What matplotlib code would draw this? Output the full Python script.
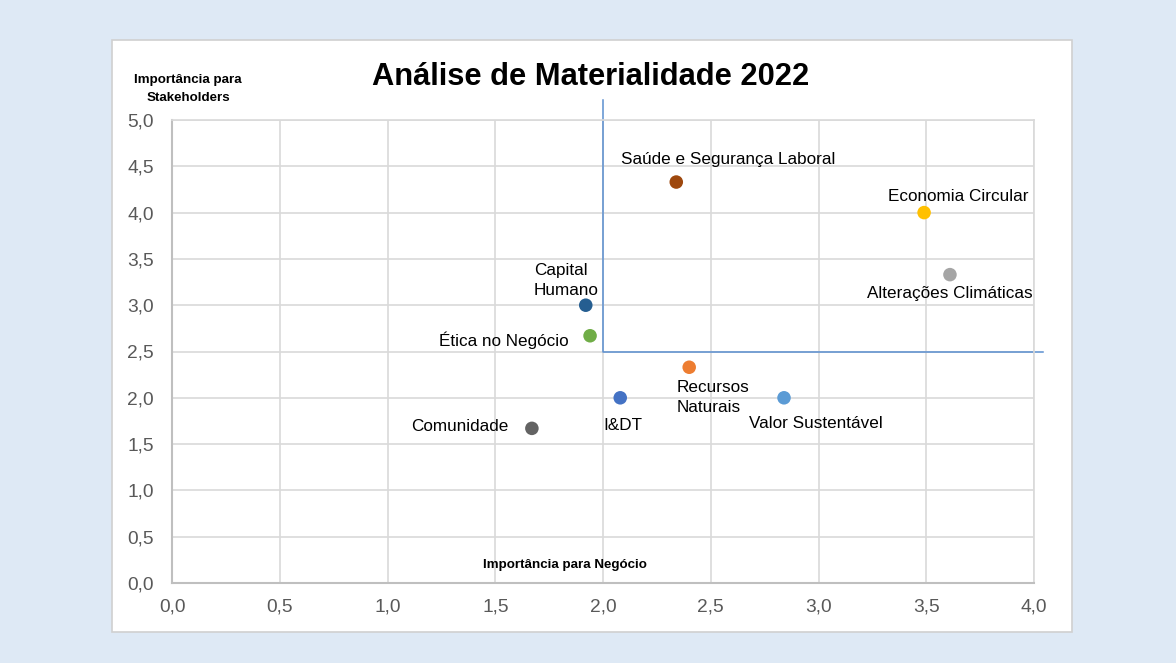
import matplotlib
matplotlib.use('Agg')
import matplotlib.pyplot as plt
from matplotlib.patches import Rectangle
from matplotlib.ticker import FuncFormatter, MultipleLocator

plt.rcParams['font.family'] = ['Liberation Sans', 'DejaVu Sans']

# dados
temas = ["Saúde e Segurança Laboral", "Economia Circular", "Alterações Climáticas",
         "Capital\nHumano", "Ética no Negócio", "Recursos\nNaturais",
         "I&DT", "Valor Sustentável", "Comunidade"]
negocio = [2.34, 3.49, 3.61, 1.92, 1.94, 2.40, 2.08, 2.84, 1.67]
stakeholders = [4.33, 4.00, 3.33, 3.00, 2.67, 2.33, 2.00, 2.00, 1.67]
cores = ["#9e480e", "#ffc000", "#a5a5a5", "#255e91", "#70ad47", "#ed7d31",
         "#4472c4", "#5b9bd5", "#636363"]
quadrante_x = [2.0, 2.0, 4.04]
quadrante_y = [5.22, 2.5, 2.5]

# deslocamento dos rótulos (pixels) e alinhamento
rotulos = [
    (52, 23, 'center'), (34, 16, 'center'), (0, -19, 'center'),
    (-52, 25, 'left'), (-21, -4, 'right'), (-13, -30, 'left'),
    (3, -28, 'center'), (32, -26, 'center'), (-23, 2, 'right'),
]

fig = plt.figure(figsize=(11.76, 6.63), dpi=100)
fig.patch.set_facecolor('#dee9f5')
fig.patches.append(Rectangle((112 / 1176, 1 - 632 / 663), 960 / 1176, 592 / 663,
                             transform=fig.transFigure, facecolor='white',
                             edgecolor='#d0d0d0', linewidth=1.2, zorder=-10))

ax = fig.add_axes([172 / 1176, 80 / 663, 862 / 1176, 463 / 663])
ax.patch.set_alpha(0)
ax.set_xlim(0, 4.0)
ax.set_ylim(0, 5.0)
ax.xaxis.set_major_locator(MultipleLocator(0.5))
ax.yaxis.set_major_locator(MultipleLocator(0.5))
fmt = FuncFormatter(lambda v, p: f"{v:.1f}".replace('.', ','))
ax.xaxis.set_major_formatter(fmt)
ax.yaxis.set_major_formatter(fmt)
ax.tick_params(length=0, labelsize=13.8, labelcolor='#595959')
ax.tick_params(axis='x', pad=11.5)
ax.tick_params(axis='y', pad=13)
ax.grid(True, color='#d9d9d9', linewidth=1.2)
ax.set_axisbelow(True)
for lado in ('top', 'right'):
    ax.spines[lado].set_color('#d9d9d9')
    ax.spines[lado].set_linewidth(1.2)
for lado in ('left', 'bottom'):
    ax.spines[lado].set_color('#bfbfbf')
    ax.spines[lado].set_linewidth(1.5)

ax.plot(quadrante_x, quadrante_y, color='#5b8fd0', linewidth=1.1,
        clip_on=False, zorder=2)

ax.scatter(negocio, stakeholders, s=95, c=cores, zorder=3, linewidths=0)

for tema, x, y, (dx, dy, ha) in zip(temas, negocio, stakeholders, rotulos):
    ax.annotate(tema, (x, y), xytext=(dx, dy), textcoords='offset pixels',
                ha=ha, va='center', fontsize=12.3, color='black',
                multialignment='left', linespacing=1.4)

fig.text(591 / 1176, 1 - 77 / 663, "Análise de Materialidade 2022",
         ha='center', va='center', fontsize=22.2, fontweight='bold')
fig.text(188 / 1176, 1 - 89 / 663, "Importância para\nStakeholders",
         ha='center', va='center', fontsize=9.6, fontweight='bold',
         linespacing=1.6)
fig.text(565 / 1176, 1 - 565 / 663, "Importância para Negócio",
         ha='center', va='center', fontsize=9.6, fontweight='bold')

fig.savefig('out.png', dpi=100, facecolor=fig.get_facecolor())
